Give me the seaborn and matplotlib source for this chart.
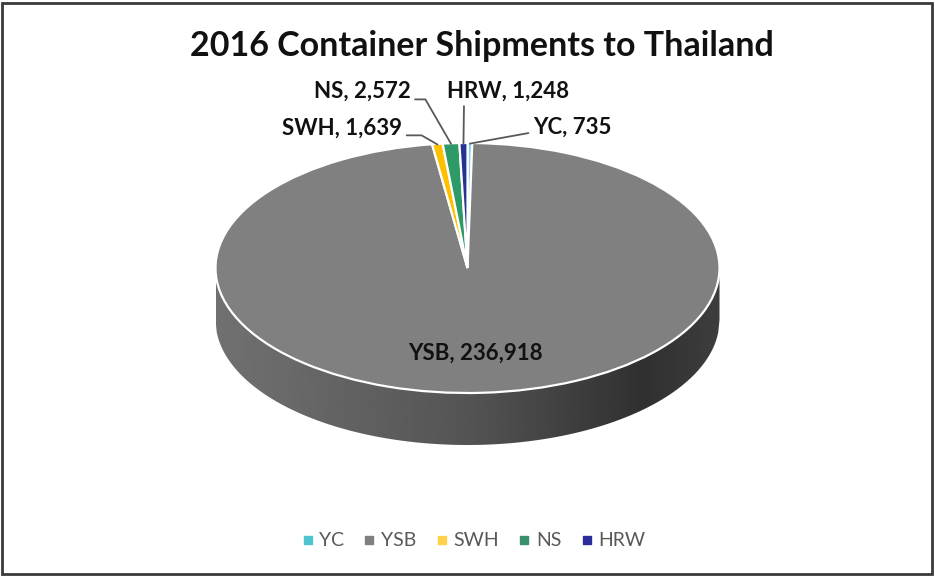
import numpy as np
import matplotlib
matplotlib.use("Agg")
import matplotlib.pyplot as plt
import seaborn as sns
from matplotlib.patches import Rectangle, Polygon
from matplotlib.lines import Line2D

# ---- data ----
categories = ["YC", "YSB", "SWH", "NS", "HRW"]
values = [735, 236918, 1639, 2572, 1248]
colors = ["#8fd0ea", "#808080", "#ffc000", "#2e9a68", "#23338f"]
legend_colors = ["#4fc3cf", "#808080", "#ffd24a", "#3a8f6e", "#2c2c9c"]
title = "2016 Container Shipments to Thailand"

sns.set_theme(style="white")
plt.rcParams["font.family"] = ["Lato", "DejaVu Sans"]

W, H = 935, 577
fig = plt.figure(figsize=(W / 100, H / 100), dpi=100)
fig.patch.set_facecolor("white")

# border frame
fig.patches.append(Rectangle((2 / W, 3 / H), (W - 5) / W, (H - 6) / H,
                             transform=fig.transFigure, fill=False,
                             edgecolor="#3a3a3a", linewidth=2))

fig.text(482 / W, 1 - 46 / H, title, ha="center", va="center",
         fontsize=24.5, fontweight="bold", color="#111111")

# pie axes (pixel box)
px0, px1, py_top, py_bot = 200, 735, 130, 470
cx, cy, rx, ry = 467.5, 268, 252, 125
ax = fig.add_axes([px0 / W, 1 - py_bot / H, (px1 - px0) / W, (py_bot - py_top) / H])
depth = 52 / ry

wedges, _ = ax.pie(values, colors=colors, startangle=90, counterclock=False,
                   wedgeprops=dict(edgecolor="white", linewidth=1.6, zorder=3))
ax.set_aspect("auto")
ax.axis("off")

# side of the 3D pie (front half, derived from ellipse geometry)
xs = np.linspace(-1, 1, 400)
top = -np.sqrt(np.clip(1 - xs ** 2, 0, None))
bot = top - depth
poly_pts = np.concatenate([np.column_stack([xs, np.zeros_like(xs)]),
                           np.column_stack([xs[::-1], bot[::-1]])])
side = Polygon(poly_pts, closed=True, facecolor="none", edgecolor="none")
ax.add_patch(side)
grad_x = np.linspace(0, 1, 256)
shade = np.interp(grad_x, [0, 0.15, 0.5, 0.85, 1.0], [0.44, 0.41, 0.33, 0.19, 0.24])
img = np.tile(shade, (2, 1))
im = ax.imshow(img, cmap="gray", vmin=0, vmax=1, aspect="auto",
               extent=[-1, 1, -1 - depth, 0], zorder=1, interpolation="bilinear")
im.set_clip_path(side)
ax.set_xlim(-(cx - px0) / rx, (px1 - cx) / rx)
ax.set_ylim(-(py_bot - cy) / ry, (cy - py_top) / ry)

# labels: figure-pixel positions, alignment, leader start and connection
label_pos = {
    "YC": (533, 127, "left", (0, 0.25), "arc3"),
    "SWH": (342, 128, "center", (1, 0.15), "angle,angleA=0,angleB=150,rad=0"),
    "NS": (362, 91, "center", (1, 0.1), "angle,angleA=0,angleB=120,rad=0"),
    "HRW": (508, 91, "center", (0.14, 0), "arc3"),
}
for w, c, v in zip(wedges, categories, values):
    ang = np.deg2rad((w.theta1 + w.theta2) / 2)
    txt = f"{c}, {v:,}"
    if c == "YSB":
        ax.text(0.03, -0.68, txt, ha="center", va="center", fontsize=16,
                fontweight="bold", color="#111111", zorder=5)
        continue
    lx, ly, ha, rp, cs = label_pos[c]
    ax.annotate(txt, xy=(np.cos(ang) * 0.995, np.sin(ang) * 0.995), xycoords="data",
                xytext=(lx / W, 1 - ly / H), textcoords="figure fraction",
                ha=ha, va="center", fontsize=16, fontweight="bold", color="#111111",
                annotation_clip=False,
                arrowprops=dict(arrowstyle="-", color="#595959", lw=1.3,
                                shrinkA=1, shrinkB=0, relpos=rp,
                                connectionstyle=cs))

# legend
handles = [Line2D([0], [0], marker="s", linestyle="", markersize=5.5,
                  markerfacecolor=lc, markeredgecolor=lc) for lc in legend_colors]
fig.legend(handles, categories, loc="center", bbox_to_anchor=(474 / W, 1 - 541 / H),
           ncol=5, frameon=False, fontsize=14, handlelength=0.5, handletextpad=0.35,
           columnspacing=1.05, labelcolor="#595959")

fig.savefig("out.png", dpi=100, facecolor="white")
